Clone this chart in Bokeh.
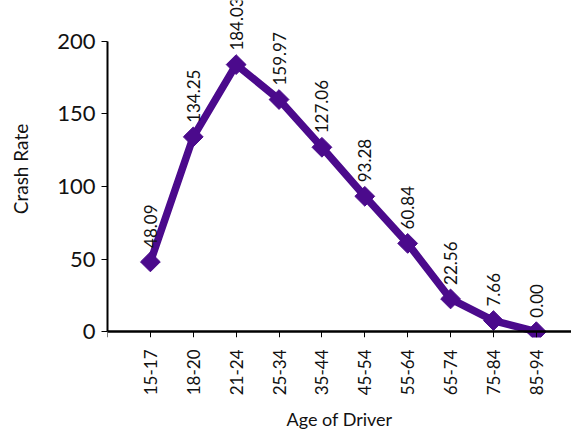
import math
from bokeh.plotting import figure
from bokeh.models import ColumnDataSource, FixedTicker, Range1d, LabelSet, LinearAxis
from bokeh.core.properties import value
from bokeh.embed import file_html
from bokeh.resources import INLINE

categories = ["15-17", "18-20", "21-24", "25-34", "35-44", "45-54", "55-64", "65-74", "75-84", "85-94"]
crash_rate = [48.09, 134.25, 184.03, 159.97, 127.06, 93.28, 60.84, 22.56, 7.66, 0.00]
y_ticks = [0, 50, 100, 150, 200]

pos = list(range(1, len(categories) + 1))
labels = ["%.2f" % v for v in crash_rate]
src = ColumnDataSource(dict(x=pos, y=crash_rate, lab=labels))

FONT = "Lato"
COLOR = "#4B0A8C"
TXT = "#111111"

p = figure(width=571, height=433, output_backend="svg", toolbar_location=None,
           x_range=Range1d(0, 10.82), y_range=Range1d(-4, 228.2),
           min_border_left=107, min_border_right=0, min_border_top=0, min_border_bottom=95)
p.outline_line_color = None
p.grid.visible = False

p.line("x", "y", source=src, line_color=COLOR, line_width=7.5, line_join="round")
p.scatter("x", "y", source=src, marker="square", angle=math.pi / 4, size=14,
          fill_color=COLOR, line_color=COLOR)

lbl = LabelSet(x="x", y="y", text="lab", source=src, angle=math.pi / 2,
               text_align="left", text_baseline="middle", x_offset=0, y_offset=14,
               text_font=value(FONT), text_font_size="17px", text_color=TXT)
p.add_layout(lbl)

ticks_x = list(range(0, len(categories) + 2))
overrides = {i + 1: c for i, c in enumerate(categories)}
overrides[0] = ""
overrides[len(categories) + 1] = ""

# label axis at frame bottom (labels + title only)
xa = p.xaxis[0]
xa.ticker = FixedTicker(ticks=ticks_x)
xa.major_label_overrides = overrides
xa.major_label_orientation = math.pi / 2
xa.major_label_text_font = FONT
xa.major_label_text_font_size = "17px"
xa.major_label_text_color = TXT
xa.major_label_standoff = 12
xa.axis_label = "Age of Driver"
xa.axis_label_text_font = FONT
xa.axis_label_text_font_size = "18px"
xa.axis_label_text_font_style = "normal"
xa.axis_label_text_color = TXT
xa.axis_label_standoff = 10
xa.axis_line_color = None
xa.major_tick_line_color = None
xa.major_tick_in = 0
xa.major_tick_out = 0
xa.minor_tick_line_color = None

# axis line + ticks drawn at y = 0
xz = LinearAxis(fixed_location=0, ticker=FixedTicker(ticks=ticks_x),
                major_label_text_font_size="0px", major_label_standoff=0,
                axis_line_width=2.5, axis_line_color="black",
                major_tick_in=0, major_tick_out=6, minor_tick_line_color=None)
xz.major_label_overrides = {t: "" for t in ticks_x}
p.add_layout(xz, "below")

ya = p.yaxis[0]
ya.ticker = FixedTicker(ticks=y_ticks)
ya.bounds = (0, 200)
ya.major_label_text_font = FONT
ya.major_label_text_font_size = "22px"
ya.major_label_text_color = TXT
ya.major_label_standoff = 6
ya.axis_label = "Crash Rate"
ya.axis_label_text_font = FONT
ya.axis_label_text_font_size = "19px"
ya.axis_label_text_font_style = "normal"
ya.axis_label_text_color = TXT
ya.axis_label_standoff = 22
ya.axis_line_width = 2
ya.axis_line_color = "black"
ya.major_tick_in = 0
ya.major_tick_out = 6
ya.minor_tick_line_color = None

open("out.html", "w").write(file_html(p, INLINE))
